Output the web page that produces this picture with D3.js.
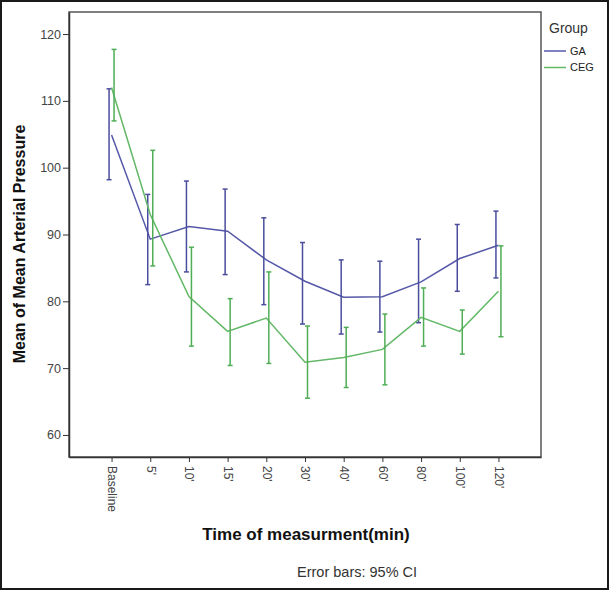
<!DOCTYPE html>
<html>
<head>
<meta charset="utf-8">
<script src="https://cdn.jsdelivr.net/npm/d3@7"></script>
<style>
  body { margin: 0; background: #fff; }
  svg { display: block; font-family: "Liberation Sans", Arial, sans-serif; }
</style>
</head>
<body>
<div id="chart"></div>
<script>
// time points
const times = ["Baseline", "5'", "10'", "15'", "20'", "30'", "40'", "60'", "80'", "100'", "120'"];
const yTicks = [60, 70, 80, 90, 100, 110, 120];

// GA group: mean and 95% CI
const gaMean = [104.9, 89.3, 91.2, 90.5, 86.2, 83.0, 80.6, 80.7, 82.9, 86.4, 88.4];
const gaLow  = [98.2, 82.5, 84.4, 84.0, 79.5, 76.6, 75.1, 75.4, 76.8, 81.5, 83.5];
const gaHigh = [111.8, 96.0, 98.0, 96.8, 92.5, 88.8, 86.2, 86.0, 89.3, 91.5, 93.5];

// CEG group: mean and 95% CI
const cegMean = [112.0, 93.0, 80.7, 75.5, 77.5, 70.9, 71.6, 72.8, 77.6, 75.5, 81.5];
const cegLow  = [107.0, 85.3, 73.3, 70.4, 70.7, 65.5, 67.1, 67.5, 73.3, 72.1, 74.7];
const cegHigh = [117.7, 102.6, 88.1, 80.4, 84.4, 76.3, 76.1, 78.1, 82.0, 78.7, 88.3];

const groups = [
  { name: "GA",  color: "#5558a8", barColor: "#4a4d9c", mean: gaMean,  low: gaLow,  high: gaHigh,  dx: -2.5 },
  { name: "CEG", color: "#62b866", barColor: "#4fae55", mean: cegMean, low: cegLow, high: cegHigh, dx: 2.5 }
];

const W = 609, H = 590;
const plot = { left: 69, right: 541, top: 12, bottom: 457 };

const svg = d3.select("#chart").append("svg")
  .attr("width", W)
  .attr("height", H);

// outer frame
svg.append("rect")
  .attr("x", 1).attr("y", 1)
  .attr("width", W - 2).attr("height", H - 2)
  .attr("fill", "none")
  .attr("stroke", "#1a1a1a")
  .attr("stroke-width", 2);

const x = d3.scalePoint()
  .domain(times)
  .range([plot.left, plot.right])
  .padding(1.1);

const y = d3.scaleLinear()
  .domain([56.7, 123.3])
  .range([plot.bottom, plot.top]);

// plot box
svg.append("rect")
  .attr("x", plot.left).attr("y", plot.top)
  .attr("width", plot.right - plot.left)
  .attr("height", plot.bottom - plot.top)
  .attr("fill", "none")
  .attr("stroke", "#555")
  .attr("stroke-width", 1.5);

// y axis
const yAxis = svg.append("g")
  .attr("transform", `translate(${plot.left},0)`)
  .call(d3.axisLeft(y).tickValues(yTicks).tickSize(6).tickSizeOuter(0).tickPadding(2));
yAxis.select(".domain").attr("stroke", "#333").attr("stroke-width", 1.5);
yAxis.selectAll(".tick line").attr("stroke", "#333");
yAxis.selectAll(".tick text")
  .attr("fill", "#444")
  .attr("font-size", "12.5px");

// x axis
const xAxis = svg.append("g")
  .attr("transform", `translate(0,${plot.bottom})`)
  .call(d3.axisBottom(x).tickSize(5).tickSizeOuter(0));
xAxis.select(".domain").attr("stroke", "#333").attr("stroke-width", 1.5);
xAxis.selectAll(".tick line").attr("stroke", "#333");
xAxis.selectAll(".tick text")
  .attr("fill", "#444")
  .attr("font-size", "12px")
  .attr("transform", "rotate(90)")
  .attr("text-anchor", "start")
  .attr("x", 9)
  .attr("y", 0)
  .attr("dy", "0.35em");

// lines and error bars
const line = d3.line()
  .x((d, i) => x(times[i]))
  .y(d => y(d));

groups.forEach(g => {
  svg.append("path")
    .datum(g.mean)
    .attr("fill", "none")
    .attr("stroke", g.color)
    .attr("stroke-width", 1.5)
    .attr("d", line);

  const bars = svg.append("g")
    .selectAll("g")
    .data(times)
    .join("g")
    .attr("stroke", g.barColor)
    .attr("stroke-width", 1.5);

  bars.append("line")
    .attr("x1", d => x(d) + g.dx).attr("x2", d => x(d) + g.dx)
    .attr("y1", (d, i) => y(g.low[i])).attr("y2", (d, i) => y(g.high[i]));
  bars.append("line")
    .attr("x1", d => x(d) + g.dx - 2.5).attr("x2", d => x(d) + g.dx + 2.5)
    .attr("y1", (d, i) => y(g.high[i])).attr("y2", (d, i) => y(g.high[i]));
  bars.append("line")
    .attr("x1", d => x(d) + g.dx - 2.5).attr("x2", d => x(d) + g.dx + 2.5)
    .attr("y1", (d, i) => y(g.low[i])).attr("y2", (d, i) => y(g.low[i]));
});

// axis titles
svg.append("text")
  .attr("transform", "translate(25,244) rotate(-90)")
  .attr("text-anchor", "middle")
  .attr("font-size", "16px")
  .attr("font-weight", "bold")
  .attr("fill", "#111")
  .text("Mean of Mean Arterial Pressure");

svg.append("text")
  .attr("x", 306)
  .attr("y", 540)
  .attr("text-anchor", "middle")
  .attr("font-size", "17px")
  .attr("font-weight", "bold")
  .attr("fill", "#111")
  .text("Time of measurment(min)");

svg.append("text")
  .attr("x", 297)
  .attr("y", 577)
  .attr("font-size", "14.5px")
  .attr("fill", "#333")
  .text("Error bars: 95% CI");

// legend
const legend = svg.append("g");
legend.append("text")
  .attr("x", 549).attr("y", 33)
  .attr("font-size", "14px")
  .attr("fill", "#333")
  .text("Group");

const items = legend.selectAll("g.item")
  .data(groups)
  .join("g")
  .attr("class", "item")
  .attr("transform", (d, i) => `translate(544,${51 + i * 16.5})`);
items.append("line")
  .attr("x1", 0).attr("x2", 22)
  .attr("stroke", d => d.color)
  .attr("stroke-width", 1.5);
items.append("text")
  .attr("x", 26).attr("dy", "0.35em")
  .attr("font-size", "11px")
  .attr("fill", "#222")
  .text(d => d.name);
</script>
</body>
</html>
